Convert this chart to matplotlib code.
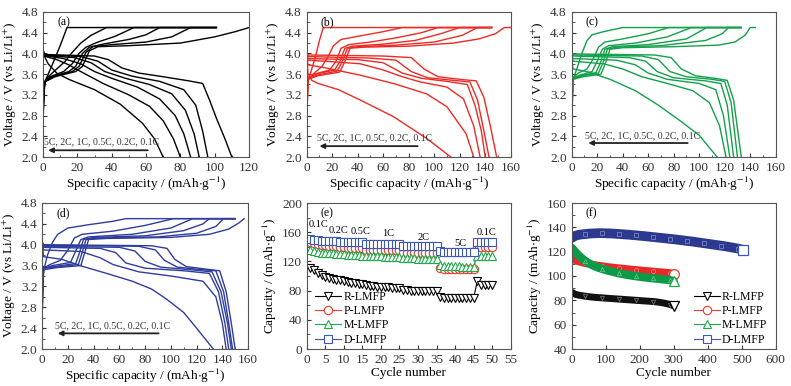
import matplotlib
matplotlib.use('Agg')
import matplotlib.pyplot as plt
from matplotlib.ticker import MultipleLocator, FormatStrFormatter

plt.rcParams['font.family'] = ['Liberation Serif', 'DejaVu Serif']
plt.rcParams['mathtext.fontset'] = 'stix'

rates = ['5C', '2C', '1C', '0.5C', '0.2C', '0.1C']

# charge / discharge curves, (capacity, voltage) points, order 5C -> 0.1C
charge_a = [
    [(0, 2.7), (1, 3.45), (5, 3.75), (10, 4.15), (14, 4.5), (101, 4.5)],
    [(0, 2.8), (1, 3.45), (3, 3.55), (8, 3.7), (13, 3.85), (17, 4.02), (22, 4.2), (28, 4.35), (37, 4.5), (101, 4.5)],
    [(0, 2.9), (1, 3.45), (4, 3.55), (12, 3.65), (17, 3.8), (21, 4.0), (25, 4.12), (32, 4.22), (42, 4.33), (53, 4.5), (101, 4.5)],
    [(0, 3.0), (1, 3.45), (5, 3.55), (15, 3.65), (19, 3.75), (23, 4.0), (27, 4.12), (35, 4.18), (50, 4.27), (60, 4.36), (68, 4.5), (101, 4.5)],
    [(0, 3.1), (1, 3.45), (6, 3.55), (17, 3.65), (21, 3.75), (25, 4.02), (29, 4.13), (40, 4.17), (60, 4.22), (75, 4.32), (86, 4.5), (101, 4.5)],
    [(0, 3.2), (1, 3.45), (7, 3.55), (19, 3.65), (23, 3.75), (27, 4.05), (32, 4.13), (50, 4.15), (80, 4.2), (100, 4.32), (112, 4.42), (120, 4.5)],
]
discharge_a = [
    [(0, 4.1), (0.5, 3.97), (3, 3.8), (8, 3.62), (15, 3.5), (30, 3.3), (45, 3.02), (58, 2.65), (65, 2.35), (70, 2.0)],
    [(0, 4.1), (0.5, 3.95), (8, 3.88), (15, 3.78), (22, 3.65), (35, 3.42), (50, 3.2), (62, 2.98), (70, 2.7), (76, 2.35), (80, 2.0)],
    [(0, 4.1), (0.5, 3.96), (12, 3.9), (22, 3.8), (30, 3.65), (40, 3.52), (55, 3.35), (68, 3.12), (77, 2.8), (82, 2.45), (86, 2.0)],
    [(0, 4.1), (0.5, 3.96), (18, 3.92), (28, 3.82), (36, 3.65), (48, 3.52), (62, 3.4), (75, 3.22), (83, 2.9), (88, 2.45), (91, 2.0)],
    [(0, 4.1), (0.5, 3.97), (22, 3.94), (32, 3.85), (40, 3.68), (52, 3.56), (68, 3.46), (82, 3.3), (89, 3.0), (93, 2.5), (96, 2.0)],
    [(0, 4.1), (0.5, 3.98), (30, 3.95), (38, 3.88), (46, 3.72), (56, 3.62), (70, 3.55), (85, 3.47), (93, 3.42), (97, 3.1), (101, 2.75), (106, 2.35), (110, 2.0)],
]

charge_b = [
    [(0, 2.6), (1, 3.5), (3, 3.62), (7, 3.95), (10, 4.25), (13, 4.5), (145, 4.5)],
    [(0, 2.7), (1, 3.5), (5, 3.6), (12, 3.75), (17, 3.95), (21, 4.15), (27, 4.27), (40, 4.33), (60, 4.42), (75, 4.5), (145, 4.5)],
    [(0, 2.8), (1, 3.52), (6, 3.6), (18, 3.68), (23, 3.85), (27, 4.1), (33, 4.17), (50, 4.22), (70, 4.3), (90, 4.4), (103, 4.5), (145, 4.5)],
    [(0, 2.9), (1, 3.52), (7, 3.6), (22, 3.68), (26, 3.85), (30, 4.1), (36, 4.14), (60, 4.18), (85, 4.25), (105, 4.38), (120, 4.5), (145, 4.5)],
    [(0, 3.0), (1, 3.52), (8, 3.58), (24, 3.66), (28, 3.85), (32, 4.1), (40, 4.13), (70, 4.16), (100, 4.22), (122, 4.35), (134, 4.5), (145, 4.5)],
    [(0, 3.1), (1, 3.5), (9, 3.57), (26, 3.64), (30, 3.85), (34, 4.1), (44, 4.12), (80, 4.14), (115, 4.2), (135, 4.28), (148, 4.38), (155, 4.5), (160, 4.5)],
]
discharge_b = [
    [(0, 3.95), (1, 3.62), (4, 3.48), (9, 3.42), (25, 3.3), (42, 3.1), (68, 2.78), (94, 2.36), (113, 2.0)],
    [(0, 3.95), (1, 3.78), (15, 3.72), (42, 3.58), (68, 3.42), (94, 3.22), (110, 2.97), (125, 2.45), (131, 2.0)],
    [(0, 3.95), (1, 3.87), (20, 3.84), (42, 3.8), (60, 3.68), (75, 3.55), (89, 3.45), (110, 3.35), (123, 3.12), (131, 2.6), (136, 2.0)],
    [(0, 3.97), (1, 3.9), (40, 3.88), (60, 3.82), (75, 3.62), (90, 3.52), (110, 3.46), (126, 3.4), (132, 3.0), (137, 2.5), (140, 2.0)],
    [(0, 3.98), (1, 3.94), (50, 3.91), (70, 3.87), (82, 3.65), (95, 3.53), (115, 3.48), (128, 3.45), (134, 3.1), (139, 2.5), (143, 2.0)],
    [(0, 4.0), (1, 3.97), (60, 3.95), (82, 3.92), (92, 3.7), (103, 3.55), (120, 3.5), (133, 3.47), (139, 3.15), (144, 2.6), (149, 2.0)],
]

charge_c = [
    [(0, 2.5), (1, 3.5), (4, 3.7), (8, 4.0), (12, 4.25), (16, 4.36), (25, 4.42), (40, 4.5), (133, 4.5)],
    [(0, 2.6), (1, 3.52), (5, 3.62), (12, 3.7), (17, 3.9), (21, 4.12), (26, 4.22), (40, 4.28), (60, 4.38), (76, 4.5), (133, 4.5)],
    [(0, 2.7), (1, 3.52), (6, 3.58), (16, 3.65), (20, 3.85), (24, 4.08), (29, 4.15), (50, 4.2), (75, 4.32), (94, 4.5), (133, 4.5)],
    [(0, 2.8), (1, 3.52), (7, 3.57), (19, 3.63), (23, 3.85), (26, 4.08), (32, 4.13), (60, 4.17), (90, 4.28), (106, 4.5), (133, 4.5)],
    [(0, 2.9), (1, 3.5), (8, 3.56), (21, 3.62), (25, 3.85), (28, 4.08), (35, 4.12), (70, 4.15), (105, 4.25), (118, 4.38), (123, 4.5), (133, 4.5)],
    [(0, 3.0), (1, 3.5), (9, 3.55), (23, 3.6), (27, 3.85), (30, 4.08), (40, 4.11), (80, 4.13), (115, 4.16), (128, 4.22), (136, 4.35), (140, 4.5), (144, 4.5)],
]
discharge_c = [
    [(0, 3.95), (1, 3.7), (12, 3.65), (30, 3.5), (50, 3.28), (68, 3.0), (85, 2.7), (100, 2.42), (114, 2.0)],
    [(0, 3.97), (1, 3.85), (25, 3.8), (40, 3.7), (55, 3.55), (75, 3.42), (95, 3.28), (108, 3.05), (116, 2.6), (121, 2.0)],
    [(0, 3.98), (1, 3.9), (35, 3.87), (50, 3.78), (60, 3.62), (75, 3.5), (100, 3.42), (113, 3.3), (119, 2.8), (124, 2.0)],
    [(0, 4.0), (1, 3.95), (45, 3.92), (58, 3.85), (67, 3.65), (80, 3.53), (105, 3.47), (117, 3.42), (122, 3.0), (127, 2.0)],
    [(0, 4.0), (1, 3.97), (55, 3.95), (68, 3.88), (77, 3.65), (90, 3.55), (110, 3.5), (120, 3.46), (125, 3.05), (130, 2.0)],
    [(0, 4.02), (1, 3.99), (65, 3.97), (78, 3.92), (86, 3.7), (97, 3.57), (112, 3.52), (122, 3.48), (127, 3.1), (133, 2.0)],
]

charge_d = [
    [(0, 2.7), (1, 3.5), (4, 3.8), (8, 4.05), (12, 4.2), (20, 4.32), (35, 4.38), (55, 4.45), (65, 4.5), (150, 4.5)],
    [(0, 2.8), (1, 3.55), (6, 3.62), (14, 3.7), (20, 3.9), (25, 4.13), (31, 4.2), (55, 4.26), (80, 4.37), (102, 4.5), (150, 4.5)],
    [(0, 2.9), (1, 3.55), (8, 3.6), (22, 3.66), (26, 3.88), (30, 4.1), (36, 4.15), (70, 4.2), (100, 4.32), (117, 4.5), (150, 4.5)],
    [(0, 3.0), (1, 3.55), (9, 3.58), (26, 3.64), (29, 3.85), (32, 4.1), (40, 4.14), (80, 4.17), (110, 4.27), (125, 4.4), (130, 4.5), (150, 4.5)],
    [(0, 3.1), (1, 3.55), (10, 3.57), (28, 3.62), (31, 3.85), (34, 4.1), (45, 4.13), (90, 4.15), (120, 4.22), (135, 4.35), (141, 4.5), (150, 4.5)],
    [(0, 3.2), (1, 3.52), (11, 3.56), (30, 3.6), (33, 3.85), (36, 4.1), (50, 4.12), (100, 4.14), (130, 4.2), (145, 4.3), (153, 4.42), (157, 4.5)],
]
discharge_d = [
    [(0, 4.0), (1, 3.77), (15, 3.72), (32, 3.58), (50, 3.45), (70, 3.3), (85, 3.15), (97, 2.95), (110, 2.7), (120, 2.4), (133, 2.0)],
    [(0, 4.0), (1, 3.9), (30, 3.87), (45, 3.75), (55, 3.62), (75, 3.48), (100, 3.4), (125, 3.3), (135, 3.0), (140, 2.5), (143, 2.0)],
    [(0, 4.02), (1, 3.95), (45, 3.93), (57, 3.85), (65, 3.65), (80, 3.55), (110, 3.5), (130, 3.45), (137, 3.1), (142, 2.5), (145, 2.0)],
    [(0, 4.02), (1, 3.97), (60, 3.95), (72, 3.88), (80, 3.68), (92, 3.57), (115, 3.52), (132, 3.48), (139, 3.1), (144, 2.5), (147, 2.0)],
    [(0, 4.03), (1, 3.99), (75, 3.97), (88, 3.9), (95, 3.7), (105, 3.57), (125, 3.52), (135, 3.5), (141, 3.1), (145, 2.5), (148, 2.0)],
    [(0, 4.05), (1, 4.0), (85, 3.98), (97, 3.93), (103, 3.72), (112, 3.58), (128, 3.53), (138, 3.5), (143, 3.1), (147, 2.5), (150, 2.0)],
]

# rate performance (e), cycles 1-50
cycles_e = list(range(1, 51))
R_rate = [111, 108, 104, 101, 98, 97, 96, 95, 94, 93, 92, 91, 90, 89, 89,
          87, 86, 86, 85, 85, 85, 85, 84, 84, 84, 81, 81, 80, 80, 80, 80, 80, 79, 79, 79,
          71, 70, 70, 70, 70, 70, 70, 70, 70, 70, 93, 88, 87, 87, 87]
P_rate = [146, 145, 144, 143, 142, 141, 141, 141, 140, 140, 139, 139, 139, 139, 138,
          136, 136, 136, 136, 136, 135, 135, 135, 135, 135, 132, 132, 132, 132, 132, 132, 131, 131, 131, 131,
          111, 110, 110, 110, 110, 110, 109, 109, 109, 109, 140, 140, 140, 140, 140]
M_rate = [135, 134, 133, 132, 131, 131, 131, 130, 130, 130, 129, 129, 129, 129, 128,
          127, 127, 127, 127, 127, 126, 126, 126, 126, 126, 124, 124, 124, 124, 123, 123, 123, 123, 123, 123,
          115, 114, 114, 114, 114, 114, 113, 113, 113, 113, 128, 128, 128, 128, 128]
D_rate = [151, 150, 149, 148, 148, 148, 148, 148, 147, 147, 147, 146, 146, 146, 146,
          144, 144, 144, 144, 144, 144, 144, 144, 144, 144, 141, 141, 141, 141, 141, 141, 141, 141, 141, 141,
          134, 133, 133, 133, 133, 133, 133, 133, 133, 133, 146, 146, 146, 146, 146]
rate_labels = ['0.1C', '0.2C', '0.5C', '1C', '2C', '5C', '0.1C']
rate_label_x = [3.1, 8.5, 14.4, 22, 31.4, 41.3, 48.5]
rate_label_y = [171, 163, 161, 158, 153, 144, 160]

# cycling (f), sampled every 10 cycles
cycles_300 = [1] + list(range(10, 301, 10))
cycles_500 = [1] + list(range(10, 501, 10)) + [505]
R_cyc = [86.5, 85, 84.3, 83.8, 83.4, 83, 82.7, 82.4, 82.2, 82, 81.8, 81.6, 81.4, 81.2, 81, 80.8,
         80.6, 80.4, 80.2, 80, 79.8, 79.6, 79.4, 79.2, 79, 78.7, 78.3, 77.8, 77.2, 76.5, 75.5]
P_cyc = [114.5, 113, 112, 111.2, 110.5, 110, 109.4, 108.9, 108.5, 108.1, 107.7, 107.3, 107, 106.7, 106.4, 106.1,
         105.8, 105.5, 105.2, 105, 104.7, 104.4, 104.2, 104, 103.7, 103.4, 103.2, 103, 102.7, 102.4, 101.8]
M_cyc = [123, 120, 117, 114.5, 112.3, 110.5, 109, 107.8, 106.7, 105.8, 105, 104.2, 103.5, 102.8, 102.2, 101.6,
         101.1, 100.6, 100.2, 99.8, 99.4, 99, 98.7, 98.4, 98.1, 97.8, 97.5, 97.2, 96.9, 96.5, 95.8]
D_cyc = [131.5, 133, 133.8, 134.2, 134.5, 134.8, 135, 135.1, 135.2, 135.2, 135.1, 135, 134.9, 134.7, 134.5, 134.3,
         134.1, 133.9, 133.6, 133.4, 133.1, 132.9, 132.6, 132.3, 132, 131.7, 131.4, 131.1, 130.8, 130.5, 130.2,
         129.9, 129.5, 129.2, 128.8, 128.5, 128.1, 127.7, 127.3, 126.9, 126.5, 126.1, 125.7, 125.3, 124.9, 124.5,
         124, 123.5, 123, 122.5, 121.8, 121.3]

W, H = 791, 386
fig = plt.figure(figsize=(W / 100, H / 100), dpi=100)


def box(l, t, r, b):
    return [l / W, 1 - b / H, (r - l) / W, (b - t) / H]


def style(ax):
    for s in ax.spines.values():
        s.set_color('#555555')
        s.set_linewidth(0.8)
    ax.tick_params(which='both', direction='in', labelsize=9.5, colors='#333333', top=False, right=False)
    ax.tick_params(which='major', length=3)
    ax.tick_params(which='minor', length=1.8)


xlabel_cap = r'Specific capacity / (mAh$\cdot$g$^{-1}$)'
ylabel_v = r'Voltage / V (vs Li/Li$^{+}$)'

gcd_panels = [
    ('(a)', charge_a, discharge_a, 'black', 120, box(43, 12, 249, 157), (0.8, 2.29), (61, 3, 2.13)),
    ('(b)', charge_b, discharge_b, '#EE2A24', 160, box(306.7, 12, 510.7, 157), (8, 2.37), (87, 10, 2.21)),
    ('(c)', charge_c, discharge_c, '#13A04A', 160, box(571.7, 12, 775.7, 157), (10.5, 2.41), (91, 13, 2.27)),
    ('(d)', charge_d, discharge_d, '#2E3D9E', 160, box(42.3, 203, 248, 349), (9.8, 2.45), (90.5, 12, 2.3)),
]

for tag, chg, dis, col, xmax, pos, tpos, arr in gcd_panels:
    ax = fig.add_axes(pos)
    for curve in chg + dis:
        xs = [p[0] for p in curve]
        ys = [p[1] for p in curve]
        ax.plot(xs, ys, color=col, lw=1.0, solid_joinstyle='round')
    ax.set_xlim(0, xmax)
    ax.set_ylim(2.0, 4.8)
    ax.xaxis.set_major_locator(MultipleLocator(20))
    ax.xaxis.set_minor_locator(MultipleLocator(10))
    ax.yaxis.set_major_locator(MultipleLocator(0.4))
    ax.yaxis.set_minor_locator(MultipleLocator(0.2))
    ax.yaxis.set_major_formatter(FormatStrFormatter('%.1f'))
    style(ax)
    ax.set_xlabel(xlabel_cap, fontsize=9.5, labelpad=1)
    ax.set_ylabel(ylabel_v, fontsize=9.5, labelpad=2)
    ax.text(0.07, 0.93, tag, transform=ax.transAxes, fontsize=8.5, va='center', ha='left')
    ax.text(tpos[0], tpos[1], ', '.join(rates), fontsize=7, color='#333333', ha='left', va='center')
    ax.annotate('', xy=(arr[1], arr[2]), xytext=(arr[0], arr[2]),
                arrowprops=dict(arrowstyle='-|>', color='#222222', lw=1.3, mutation_scale=7, shrinkA=0, shrinkB=0))

series_names = ['R-LMFP', 'P-LMFP', 'M-LMFP', 'D-LMFP']
series_marks = ['v', 'o', '^', 's']
series_cols = ['black', '#F03A2E', '#1FAA4A', '#3B57B8']

# (e) rate capability
ax = fig.add_axes(box(306.7, 203, 510.7, 349))
for vals, name, m, c in zip([R_rate, P_rate, M_rate, D_rate], series_names, series_marks, series_cols):
    ax.plot(cycles_e, vals, color=c, lw=0.8, marker=m, ms=6, mfc='white', mec=c, mew=0.8, label=name)
for lab, x, y in zip(rate_labels, rate_label_x, rate_label_y):
    ax.text(x, y, lab, fontsize=7.5, ha='center', va='center')
ax.set_xlim(0, 55)
ax.set_ylim(0, 200)
ax.xaxis.set_major_locator(MultipleLocator(5))
ax.yaxis.set_major_locator(MultipleLocator(40))
ax.yaxis.set_minor_locator(MultipleLocator(20))
style(ax)
ax.set_xlabel('Cycle number', fontsize=9.5, labelpad=1)
ax.set_ylabel(r'Capacity / (mAh$\cdot$g$^{-1}$)', fontsize=9.5, labelpad=2)
ax.text(0.07, 0.93, '(e)', transform=ax.transAxes, fontsize=8.5, va='center', ha='left')
ax.legend(loc='lower left', bbox_to_anchor=(0.0, -0.035), frameon=False, fontsize=8.5,
          handlelength=2.2, handletextpad=0.2, labelspacing=0.2, borderaxespad=0.3)

# (f) cycling stability
ax = fig.add_axes(box(571.7, 203, 775.7, 349))
band_cols = ['#111111', '#E9282A', '#0D9A48', '#2B3990']
band_lw = [5, 5.5, 6, 7]
for xs, vals, name, m, c, bc, lw in zip([cycles_300, cycles_300, cycles_300, cycles_500],
                                         [R_cyc, P_cyc, M_cyc, D_cyc],
                                         series_names, series_marks, series_cols, band_cols, band_lw):
    ax.plot(xs, vals, color=bc, lw=lw, solid_capstyle='round')
    ax.plot(xs[4:-1:5], vals[4:-1:5], ls='none', marker=m, ms=3, mfc='none', mec='white', mew=0.5, alpha=0.45)
    ax.plot(xs[-1], vals[-1], ls='none', marker=m, ms=7, mfc='white', mec=c, mew=0.9)
    ax.plot([], [], color=c, lw=0.8, marker=m, ms=6, mfc='white', mec=c, mew=0.8, label=name)
ax.set_xlim(0, 600)
ax.set_ylim(40, 160)
ax.xaxis.set_major_locator(MultipleLocator(100))
ax.yaxis.set_major_locator(MultipleLocator(20))
ax.yaxis.set_minor_locator(MultipleLocator(10))
style(ax)
ax.set_xlabel('Cycle number', fontsize=9.5, labelpad=1)
ax.set_ylabel(r'Capacity / (mAh$\cdot$g$^{-1}$)', fontsize=9.5, labelpad=2)
ax.text(0.07, 0.93, '(f)', transform=ax.transAxes, fontsize=8.5, va='center', ha='left')
ax.legend(loc='lower right', bbox_to_anchor=(1.0, -0.035), frameon=False, fontsize=8.5,
          handlelength=2.2, handletextpad=0.2, labelspacing=0.2, borderaxespad=0.3)

fig.savefig('out.png', dpi=100)
